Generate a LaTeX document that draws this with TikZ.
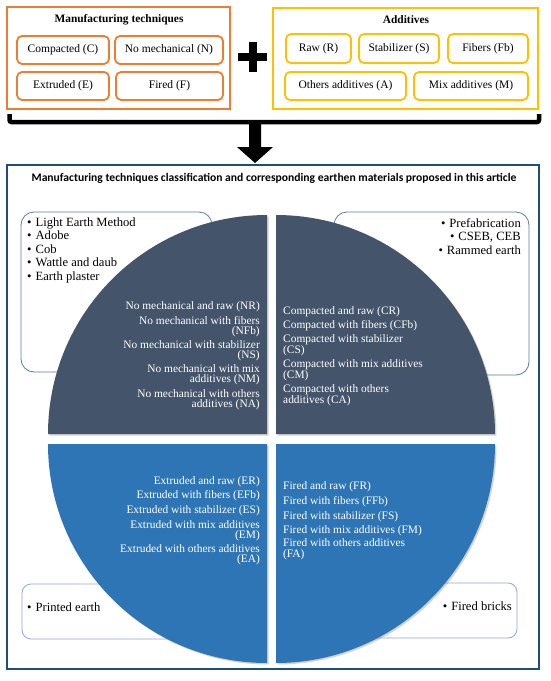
\documentclass[tikz,border=0pt]{standalone}
\usepackage{fontspec}
\setmainfont{Liberation Serif}
\newfontfamily\calfont{Carlito}
\usetikzlibrary{shadows}
\definecolor{orng}{HTML}{ED7D31}
\definecolor{yell}{HTML}{FFC000}
\definecolor{slate}{HTML}{44546A}
\definecolor{pblue}{HTML}{2E75B6}
\definecolor{frame}{HTML}{1F4E79}
\definecolor{boxc}{HTML}{5A7CA3}
\definecolor{boxl}{HTML}{8EA9DB}
\begin{document}
\begin{tikzpicture}[x=1pt,y=-1pt,
  outerO/.style={draw=orng, line width=2pt, inner sep=0},
  outerY/.style={draw=yell, line width=2pt, inner sep=0},
  inO/.style={draw=orng, line width=1.8pt, rounded corners=5pt, minimum height=28pt, inner sep=0, font=\fontsize{11.5}{13}\selectfont},
  inY/.style={draw=yell, line width=1.8pt, rounded corners=5pt, minimum height=28pt, inner sep=0, font=\fontsize{11.5}{13}\selectfont},
  ttl/.style={inner sep=0, font=\bfseries\fontsize{11.4}{13}\selectfont},
  pietxt/.style={text=white, inner sep=0, font=\fontsize{11.4}{10.5}\selectfont},
  pieR/.style={pietxt, align=right, anchor=east},
  pieL/.style={pietxt, align=left, anchor=west},
  listbox/.style={draw=boxc, line width=0.8pt, rounded corners=13pt, fill=white},
  listboxl/.style={draw=boxl, line width=0.8pt, rounded corners=9pt, fill=white},
  bul/.style={inner sep=0, font=\fontsize{12.6}{13.5}\selectfont},
  quad/.style={drop shadow={shadow xshift=1.5pt, shadow yshift=-1.5pt, opacity=0.35}}
]
\useasboundingbox (0,0) rectangle (550,681);
\fill[white] (0,0) rectangle (550,681);

% top: manufacturing techniques
\node[outerO, minimum width=223pt, minimum height=102pt] (mtbox) at (118.5,58) {};
\node[ttl] (mtttl) at (119,20) {Manufacturing techniques};
\node[inO, minimum width=92pt] (mC) at (63,50) {Compacted (C)};
\node[inO, minimum width=108pt] (mN) at (169,50) {No mechanical (N)};
\node[inO, minimum width=92pt] (mE) at (63,86) {Extruded (E)};
\node[inO, minimum width=107pt] (mF) at (169.5,86) {Fired (F)};

% plus
\fill (238,53) rectangle (267,61);
\fill (248.5,42) rectangle (256.5,72);

% additives
\node[outerY, minimum width=265pt, minimum height=101pt] (adbox) at (405.5,58.5) {};
\node[ttl] (adttl) at (406,20) {Additives};
\node[inY, minimum width=65pt, minimum height=29pt] (aR) at (318.5,48.5) {Raw (R)};
\node[inY, minimum width=80pt, minimum height=29pt] (aS) at (399,48.5) {Stabilizer (S)};
\node[inY, minimum width=80pt, minimum height=29pt] (aFb) at (488,48.5) {Fibers (Fb)};
\node[inY, minimum width=121pt] (aA) at (345.5,86) {Others additives (A)};
\node[inY, minimum width=114pt] (aM) at (471,86) {Mix additives (M)};

% bracket and arrow
\draw[line width=4.5pt, rounded corners=2pt] (9.5,114) -- (9.5,122) -- (539,122) -- (539,114);
\fill (249,121) -- (261,121) -- (261,147) -- (273,147) -- (255,163) -- (237,147) -- (249,147) -- cycle;

% frame
\node[draw=frame, line width=1.5pt, minimum width=532pt, minimum height=504pt, inner sep=0] (frm) at (273,417) {};
\node[inner sep=0, font=\calfont\bfseries\fontsize{11.6}{13}\selectfont] (frttl) at (274,178) {Manufacturing techniques classification and corresponding earthen materials proposed in this article};

% list boxes behind pie
\draw[listbox] (21,212) rectangle (212,372);
\draw[listbox] (334,212) rectangle (529,375);
\draw[listboxl] (22,584) rectangle (220,639);
\draw[listboxl] (330,583) rectangle (517,638);

\node[bul, align=left, anchor=west] (ltl) at (27,250) {\textbullet\hspace{4pt}Light Earth Method\\ \textbullet\hspace{4pt}Adobe\\ \textbullet\hspace{4pt}Cob\\ \textbullet\hspace{4pt}Wattle and daub\\ \textbullet\hspace{4pt}Earth plaster};
\node[bul, align=right, anchor=east] (ltr) at (521,236.5) {\textbullet\hspace{4pt}Prefabrication\\ \textbullet\hspace{4pt}CSEB, CEB\\ \textbullet\hspace{4pt}Rammed earth};
\node[bul, anchor=west] (lbl) at (27,607) {\textbullet\hspace{4pt}Printed earth};
\node[bul, anchor=east] (lbr) at (512,606) {\textbullet\hspace{4pt}Fired bricks};

% pie quadrants
\fill[slate, quad] (267,434) -- ++(-219,0) arc[start angle=180, end angle=270, radius=219] -- cycle;
\fill[slate, quad] (276,434) -- ++(0,-219) arc[start angle=270, end angle=360, radius=219] -- cycle;
\fill[pblue, quad] (267,444) -- ++(-219,0) arc[start angle=180, end angle=90, radius=219] -- cycle;
\fill[pblue, quad] (276,444) -- ++(219,0) arc[start angle=0, end angle=90, radius=219] -- cycle;

% TL texts
\node[pieR] (NR) at (260,307) {No mechanical and raw (NR)};
\node[pieR] (NFb) at (260,326.5) {No mechanical with fibers\\(NFb)};
\node[pieR] (NS) at (260,351) {No mechanical with stabilizer\\(NS)};
\node[pieR] (NM) at (260,375) {No mechanical  with mix\\additives (NM)};
\node[pieR] (NA) at (260,400) {No mechanical with others\\additives (NA)};

% TR texts
\node[pieL] (CR) at (283,312) {Compacted and raw (CR)};
\node[pieL] (CFb) at (283,326) {Compacted with fibers (CFb)};
\node[pieL] (CS) at (283,345.5) {Compacted with stabilizer\\(CS)};
\node[pieL] (CM) at (283,370.5) {Compacted with mix additives\\(CM)};
\node[pieL] (CA) at (283,395.5) {Compacted with others\\additives (CA)};

% BL texts
\node[pieR] (ER) at (260,482) {Extruded and raw (ER)};
\node[pieR] (EFb) at (260,496) {Extruded with fibers (EFb)};
\node[pieR] (ES) at (260,511) {Extruded with stabilizer (ES)};
\node[pieR] (EM) at (260,531) {Extruded with mix additives\\(EM)};
\node[pieR] (EA) at (260,555) {Extruded with others additives\\(EA)};

% BR texts
\node[pieL] (FR) at (283,487) {Fired and raw (FR)};
\node[pieL] (FFb) at (283,502) {Fired with fibers (FFb)};
\node[pieL] (FS) at (283,517) {Fired with stabilizer (FS)};
\node[pieL] (FM) at (283,531) {Fired with mix additives (FM)};
\node[pieL] (FA) at (283,549.5) {Fired with others additives\\(FA)};
\end{tikzpicture}
\end{document}
